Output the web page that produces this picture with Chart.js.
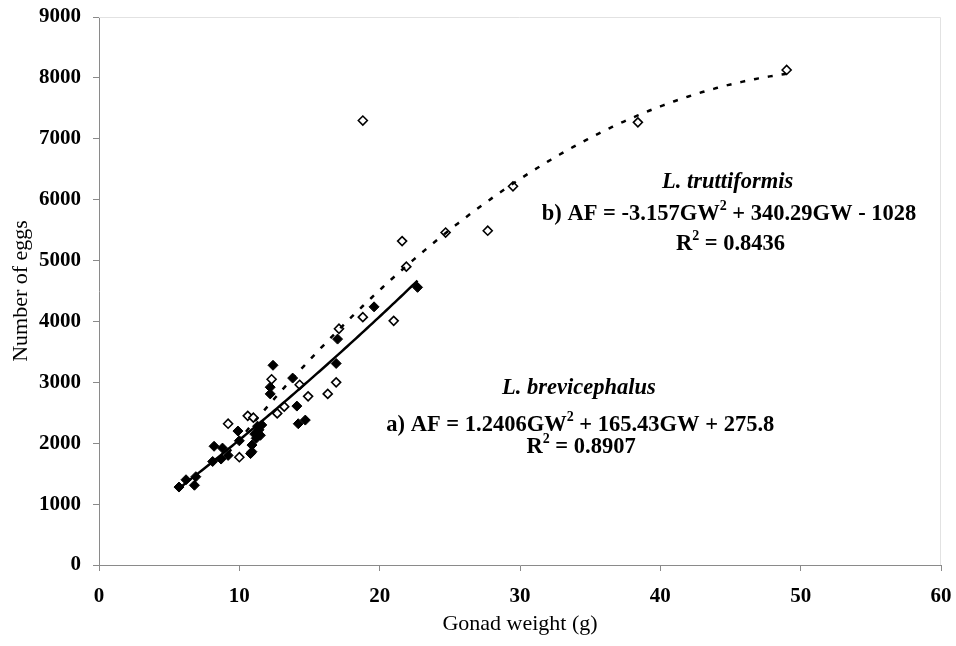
<!DOCTYPE html>
<html>
<head>
<meta charset="utf-8">
<title>Number of eggs vs gonad weight</title>
<script src="https://cdn.jsdelivr.net/npm/chart.js@4.4.0/dist/chart.umd.min.js"></script>
<style>
    html, body { margin: 0; padding: 0; background: #fff; }
    #wrap { width: 956px; height: 646px; }
</style>
</head>
<body>
<div id="wrap"><canvas id="eggsChart" width="956" height="646"></canvas></div>
<script>
// L. brevicephalus (filled diamonds)
var brevGW   = [5.7, 6.2, 6.8, 6.9, 8.1, 8.2, 8.8, 8.7, 9.2, 9.9, 10.0, 10.9, 10.9, 10.8, 11.1, 11.3, 11.4, 11.5, 11.2, 11.6, 12.2, 12.2, 12.4, 13.8, 14.1, 14.2, 14.7, 16.9, 17.0, 19.6, 22.7];
var brevEggs = [1280, 1400, 1310, 1450, 1700, 1950, 1920, 1740, 1800, 2200, 2040, 1970, 1860, 1830, 2150, 2280, 2220, 2130, 2080, 2300, 2920, 2810, 3280, 3070, 2610, 2320, 2380, 3310, 3710, 4240, 4560];

// L. truttiformis (open diamonds)
var trutGW   = [9.2, 10.0, 10.6, 11.0, 12.3, 12.7, 13.2, 14.3, 14.9, 16.3, 16.9, 17.1, 18.8, 21.0, 21.9, 21.6, 18.8, 24.7, 27.7, 29.5, 38.4, 49.0];
var trutEggs = [2320, 1770, 2450, 2420, 3050, 2490, 2600, 2960, 2770, 2810, 3000, 3880, 4070, 4010, 4900, 5320, 7300, 5460, 5490, 6220, 7270, 8130];

// polynomial trendlines: a*GW^2 + b*GW + c
var brevCoef = [1.2406, 165.43, 275.8];
var trutCoef = [-3.157, 340.29, -1028];

var xTicks = [0, 10, 20, 30, 40, 50, 60];
var yTicks = [0, 1000, 2000, 3000, 4000, 5000, 6000, 7000, 8000, 9000];

var serif = "'Liberation Serif', 'Times New Roman', serif";

function toPoints(xs, ys) {
    return xs.map(function(x, i) { return { x: x, y: ys[i] }; });
}

// sample the fitted curve across the range of the series it belongs to
function trendPoints(coef, xs) {
    var lo = Math.min.apply(null, xs), hi = Math.max.apply(null, xs);
    var pts = [];
    for (var x = lo; x < hi; x += 0.2) {
        pts.push({ x: x, y: coef[0] * x * x + coef[1] * x + coef[2] });
    }
    pts.push({ x: hi, y: coef[0] * hi * hi + coef[1] * hi + coef[2] });
    return pts;
}

// equation labels, anchored in data units
var labels = [
    { x: 44.8, y: 6290, runs: [['L. truttiformis', 'i']] },
    { x: 44.9, y: 5765, runs: [['b) AF = -3.157GW'], ['2', 's'], [' + 340.29GW - 1028']] },
    { x: 45.0, y: 5270, runs: [['R'], ['2', 's'], [' = 0.8436']] },
    { x: 34.2, y: 2906, runs: [['L. brevicephalus', 'i']] },
    { x: 34.3, y: 2300, runs: [['a) AF = 1.2406GW'], ['2', 's'], [' + 165.43GW + 275.8']] },
    { x: 34.35, y: 1938, runs: [['R'], ['2', 's'], [' = 0.8907']] }
];

function runFont(run, size) {
    if (run[1] === 'i') return 'italic bold ' + size + 'px ' + serif;
    if (run[1] === 's') return 'bold ' + Math.round(size * 0.6) + 'px ' + serif;
    return 'bold ' + size + 'px ' + serif;
}

var textPlugin = {
    id: 'eqText',
    beforeDatasetsDraw: function(chart) {
        // faint frame on top and right of the plot area
        var ctx = chart.ctx, a = chart.chartArea;
        ctx.save();
        ctx.strokeStyle = '#e2e2e2';
        ctx.lineWidth = 1;
        ctx.beginPath();
        ctx.moveTo(a.left, a.top + 0.5);
        ctx.lineTo(a.right - 0.5, a.top + 0.5);
        ctx.lineTo(a.right - 0.5, a.bottom);
        ctx.stroke();
        ctx.restore();
    },
    afterDraw: function(chart) {
        var ctx = chart.ctx;
        var size = 22.5;
        ctx.save();
        ctx.fillStyle = '#000';
        ctx.textBaseline = 'middle';
        ctx.textAlign = 'left';
        labels.forEach(function(lb) {
            var cx = chart.scales.x.getPixelForValue(lb.x);
            var cy = chart.scales.y.getPixelForValue(lb.y);
            var widths = lb.runs.map(function(r) {
                ctx.font = runFont(r, size);
                return ctx.measureText(r[0]).width;
            });
            var total = widths.reduce(function(s, w) { return s + w; }, 0);
            var x = cx - total / 2;
            lb.runs.forEach(function(r, i) {
                ctx.font = runFont(r, size);
                ctx.fillText(r[0], x, r[1] === 's' ? cy - size * 0.33 : cy);
                x += widths[i];
            });
        });
        ctx.restore();
    }
};

var ctx = document.getElementById('eggsChart').getContext('2d');
new Chart(ctx, {
    type: 'scatter',
    data: {
        datasets: [{
            label: 'L. brevicephalus trend',
            type: 'line',
            data: trendPoints(brevCoef, brevGW),
            borderColor: '#000',
            borderWidth: 2.5,
            pointRadius: 0,
            fill: false,
            order: 1
        }, {
            label: 'L. truttiformis trend',
            type: 'line',
            data: trendPoints(trutCoef, trutGW),
            borderColor: '#000',
            borderWidth: 2.5,
            borderDash: [5, 9],
            pointRadius: 0,
            fill: false,
            order: 1
        }, {
            label: 'L. brevicephalus',
            data: toPoints(brevGW, brevEggs),
            pointStyle: 'rectRot',
            pointRadius: 5,
            backgroundColor: '#000',
            borderColor: '#000',
            borderWidth: 1,
            order: 2
        }, {
            label: 'L. truttiformis',
            data: toPoints(trutGW, trutEggs),
            pointStyle: 'rectRot',
            pointRadius: 4.5,
            backgroundColor: '#fff',
            borderColor: '#000',
            borderWidth: 1.6,
            order: 2
        }]
    },
    options: {
        responsive: false,
        animation: false,
        devicePixelRatio: 1,
        layout: { padding: { top: 17, right: 15, left: 0, bottom: 0 } },
        plugins: {
            legend: { display: false },
            tooltip: { enabled: false }
        },
        scales: {
            x: {
                type: 'linear',
                min: 0,
                max: 60,
                afterFit: function(scale) {
                    scale.height = 81;
                    scale.paddingLeft = 0;
                    scale.paddingRight = 0;
                },
                afterBuildTicks: function(scale) {
                    scale.ticks = xTicks.map(function(v) { return { value: v }; });
                },
                grid: { drawOnChartArea: false, drawTicks: true, tickLength: 6, color: '#8a8a8a' },
                border: { color: '#8a8a8a', width: 1 },
                ticks: {
                    color: '#000',
                    padding: 13,
                    font: { family: serif, size: 21, weight: 'bold' }
                },
                title: {
                    display: true,
                    text: 'Gonad weight (g)',
                    color: '#000',
                    padding: { top: 0, bottom: 9 },
                    font: { family: serif, size: 22 }
                }
            },
            y: {
                type: 'linear',
                min: 0,
                max: 9000,
                afterFit: function(scale) {
                    scale.width = 99;
                    scale.paddingTop = 0;
                    scale.paddingBottom = 0;
                },
                afterBuildTicks: function(scale) {
                    scale.ticks = yTicks.map(function(v) { return { value: v }; });
                },
                grid: { drawOnChartArea: false, drawTicks: true, tickLength: 6, color: '#8a8a8a' },
                border: { color: '#8a8a8a', width: 1 },
                ticks: {
                    color: '#000',
                    padding: 12,
                    font: { family: serif, size: 21, weight: 'bold' },
                    callback: function(v) { return String(v); }
                },
                title: {
                    display: true,
                    text: 'Number of eggs',
                    color: '#000',
                    padding: { top: 8, bottom: 0 },
                    font: { family: serif, size: 22 }
                }
            }
        }
    },
    plugins: [textPlugin]
});
</script>
</body>
</html>
